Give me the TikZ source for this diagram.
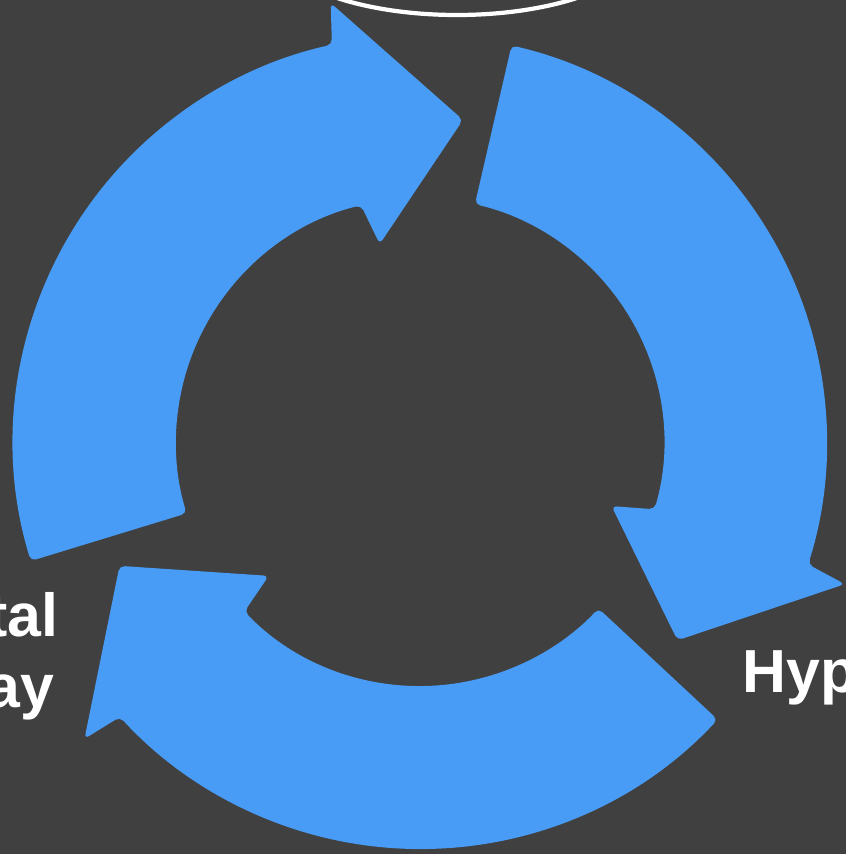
\documentclass[tikz,border=0pt]{standalone}
\usepackage{fontspec}
\setmainfont{Liberation Sans}
\usetikzlibrary{shapes.geometric}

\begin{document}
\begin{tikzpicture}[
    line join=round,
    every node/.style={font=\bfseries\fontsize{17.3}{20}\selectfont}
]

\definecolor{bggray}{RGB}{64,64,64}
\definecolor{cycblue}{RGB}{72,156,246}

% -----------------------------
% Frame and background
% -----------------------------
\useasboundingbox (-4.20,-4.12) rectangle (4.26,4.42);
\clip (-4.20,-4.12) rectangle (4.26,4.42);
\fill[bggray] (-4.20,-4.12) rectangle (4.26,4.42);

% -----------------------------
% Three curved arrows (clockwise)
% -----------------------------
\foreach \a in {0,120,240}{
  \fill[cycblue, rounded corners=1.5pt]
  (197-\a:4.07) arc[start angle=197-\a, end angle=102.5-\a, radius=4.07]
  -- (101.5-\a:4.48)
  -- (82.4-\a:3.25)
  -- (101.5-\a:2.02)
  -- (104-\a:2.44)
  arc[start angle=104-\a, end angle=197-\a, radius=2.44]
  -- cycle;
}

% -----------------------------
% Top ellipse (cut by frame)
% -----------------------------
\node[ellipse, draw=white, line width=1.2pt, minimum width=3.78cm,
      minimum height=1.50cm, inner sep=0pt] (hub) at (0.37,5.02) {};

% -----------------------------
% Labels
% -----------------------------
\node[white, anchor=base east, inner sep=0pt] (lbltal) at (-3.61,-1.94) {tal};
\node[white, anchor=base east, inner sep=0pt] (lblay) at (-3.65,-2.65) {ay};
\node[white, anchor=base west, inner sep=0pt] (lblhyp) at (3.22,-2.50) {Hyp};

\end{tikzpicture}
\end{document}
